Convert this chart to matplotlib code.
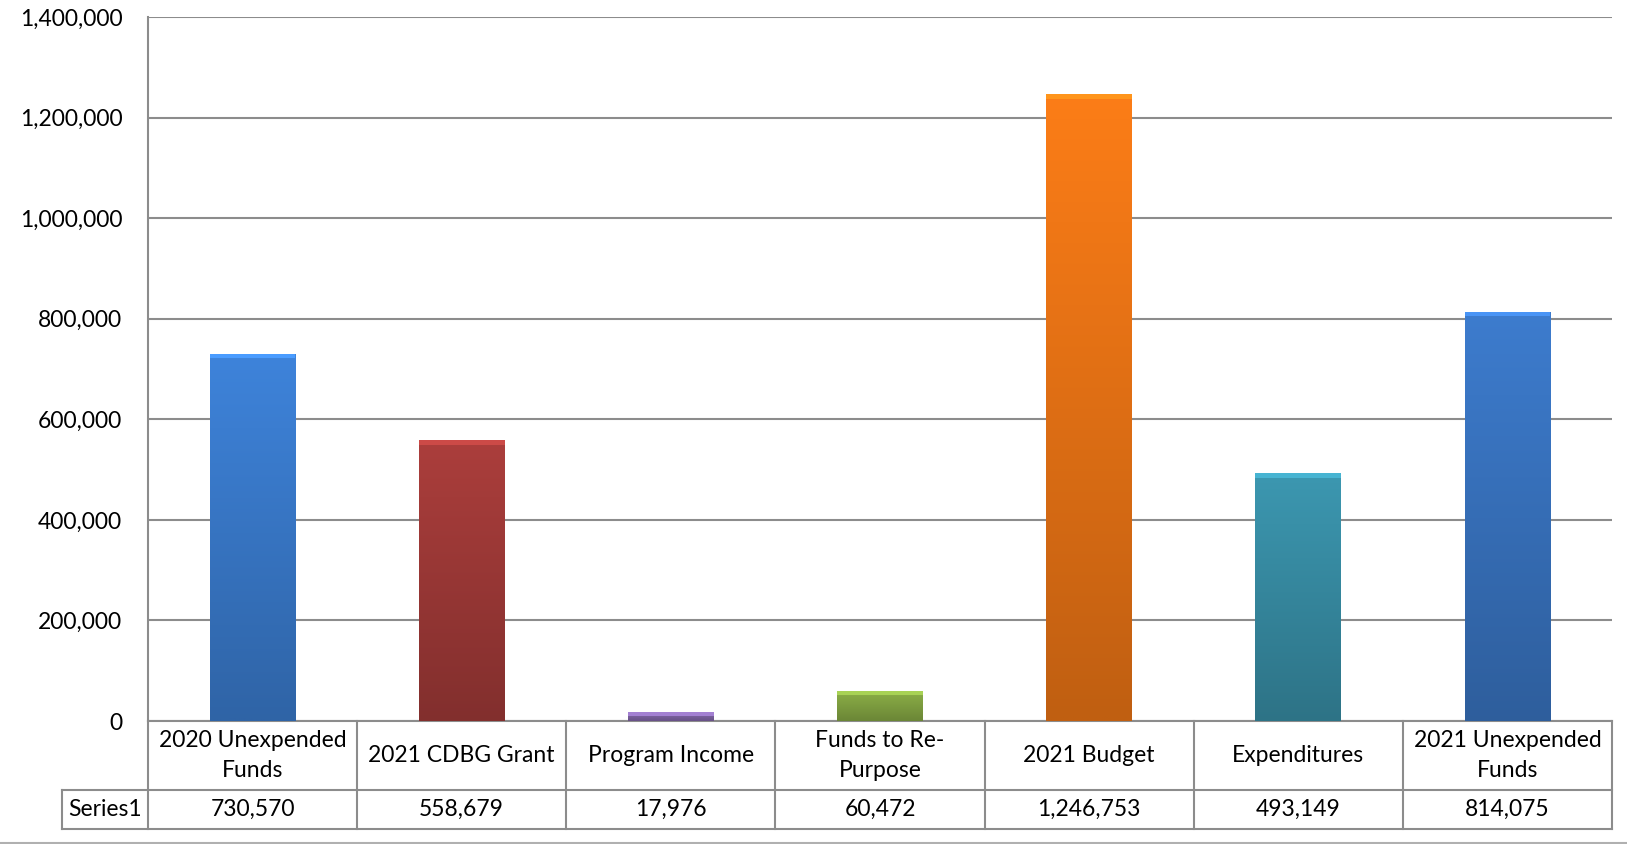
import matplotlib
matplotlib.use("Agg")
import matplotlib.pyplot as plt
import matplotlib.transforms as mtransforms
from matplotlib.colors import to_rgb
import numpy as np

# Data
categories = ["2020 Unexpended\nFunds", "2021 CDBG Grant", "Program Income",
              "Funds to Re-\nPurpose", "2021 Budget", "Expenditures",
              "2021 Unexpended\nFunds"]
series_name = "Series1"
values = [730570, 558679, 17976, 60472, 1246753, 493149, 814075]
bar_colors = ["#3b7dd0", "#a33b39", "#8266a8", "#86a844", "#f07716", "#3990a8", "#3a76c4"]
y_ticks = [0, 200000, 400000, 600000, 800000, 1000000, 1200000, 1400000]

plt.rcParams['font.family'] = ['Lato', 'DejaVu Sans']
grid_color = "#8c8c8c"

W, H = 1627, 844
ax_left, ax_right, ax_top, ax_bottom = 148, 1612, 17, 721

fig = plt.figure(figsize=(W / 100, H / 100), dpi=100)
ax = fig.add_axes([ax_left / W, 1 - ax_bottom / H, (ax_right - ax_left) / W,
                   (ax_bottom - ax_top) / H])

x = np.arange(len(values))
bars = ax.bar(x, values, width=0.41, color=bar_colors, zorder=3,
              edgecolor="none")

# vertical gradient on each bar, lighter top to darker bottom
for b, c in zip(bars, bar_colors):
    r, g, bl = to_rgb(c)
    n = 64
    t = np.linspace(0, 1, n)[:, None]
    top = np.array([min(1, r * 1.05), min(1, g * 1.05), min(1, bl * 1.05)])
    bot = np.array([r * 0.8, g * 0.8, bl * 0.8])
    grad = (top[None, :] * (1 - t) + bot[None, :] * t).reshape(n, 1, 3)
    x0, y0 = b.get_x(), b.get_y()
    w, h = b.get_width(), b.get_height()
    im = ax.imshow(grad, extent=[x0, x0 + w, y0, y0 + h], aspect="auto",
                   zorder=3.5, interpolation="bilinear")
    im.set_clip_path(b)
    # light bevel band at the top
    band = min(h, 9000)
    ax.bar(b.get_x() + w / 2, band, width=w, bottom=h - band,
           color=(min(1, r * 1.25), min(1, g * 1.25), min(1, bl * 1.25)),
           zorder=4, edgecolor="none")

ax.set_xlim(-0.5, len(values) - 0.5)
ax.set_ylim(0, 1400000)
ax.set_yticks(y_ticks)
ax.set_yticklabels([f"{v:,}" for v in y_ticks], fontsize=16.5)
ax.tick_params(axis="y", length=0, pad=18.5)
ax.set_xticks([])
ax.yaxis.grid(True, color=grid_color, linewidth=1.5, zorder=0)
ax.set_axisbelow(True)
for s in ["top", "right", "bottom"]:
    ax.spines[s].set_visible(False)
ax.spines["left"].set_color(grid_color)
ax.spines["left"].set_linewidth(1.5)

# data table below the axis
trans = mtransforms.blended_transform_factory(ax.transData, ax.transAxes)
ax_h = ax_bottom - ax_top
col_w = (ax_right - ax_left) / len(values)
row1 = -(790 - ax_bottom) / ax_h
row2 = -(829 - ax_bottom) / ax_h
left_x = -0.5 - (ax_left - 62) / col_w
right_x = len(values) - 0.5
lk = dict(color=grid_color, linewidth=1.5, transform=trans, clip_on=False)

ax.plot([-0.5, right_x], [0, 0], **lk)
ax.plot([left_x, right_x], [row1, row1], **lk)
ax.plot([left_x, right_x], [row2, row2], **lk)
ax.plot([left_x, left_x], [row1, row2], **lk)
for i in range(len(values) + 1):
    ax.plot([i - 0.5, i - 0.5], [0, row2], **lk)

for i, (cat, v) in enumerate(zip(categories, values)):
    ax.text(i, row1 / 2, cat, transform=trans, ha="center", va="center",
            fontsize=16.5, linespacing=1.5)
    ax.text(i, (row1 + row2) / 2, f"{v:,}", transform=trans, ha="center",
            va="center", fontsize=16.5)
ax.text((left_x - 0.5) / 2, (row1 + row2) / 2, series_name, transform=trans,
        ha="center", va="center", fontsize=16.5)

# bottom border line of the picture
fig.add_artist(plt.Line2D([0, 1], [1 - 843 / H, 1 - 843 / H],
                          color="#b0b0b0", linewidth=1.5, transform=fig.transFigure))

fig.savefig("out.png", dpi=100)
